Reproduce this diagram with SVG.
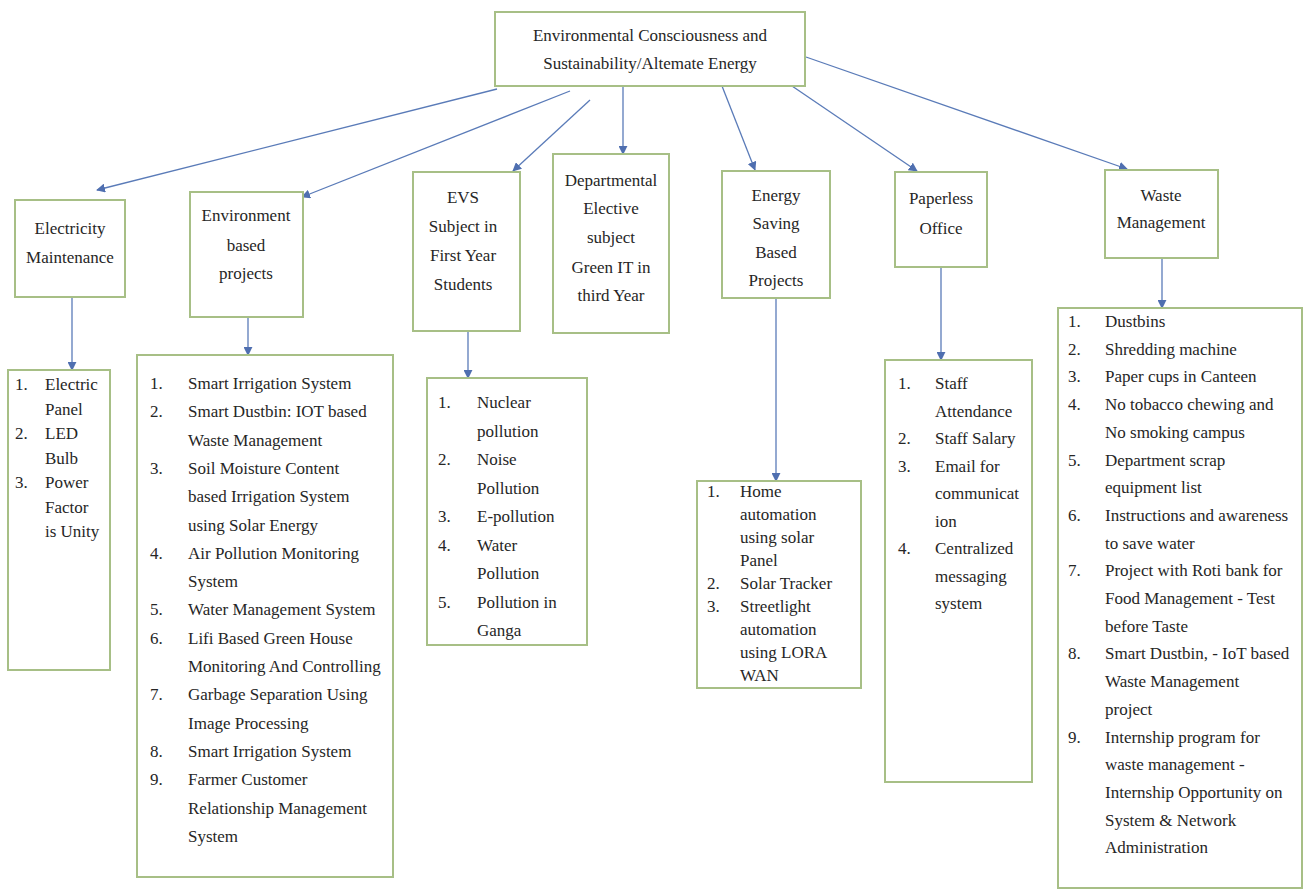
<svg xmlns="http://www.w3.org/2000/svg" width="1306" height="891" viewBox="0 0 1306 891">
<defs>
<marker id="ah" viewBox="0 0 10 10" refX="9" refY="5" markerWidth="9" markerHeight="9" markerUnits="userSpaceOnUse" orient="auto">
<path d="M0,0 L10,5 L0,10 z" fill="#4f6fb0"/>
</marker>
<style>
.box{fill:#ffffff;stroke:#a7bf86;stroke-width:2}
.t{font-family:"Liberation Serif","Times New Roman",serif;font-size:17px;fill:#262626}
.c{text-anchor:middle}
.conn{stroke:#5a7bb8;stroke-width:1.3;fill:none;marker-end:url(#ah)}
</style>
</defs>
<rect width="1306" height="891" fill="#ffffff"/>
<g id="connectors">
<line class="conn" x1="497" y1="89" x2="97" y2="190"/>
<line class="conn" x1="570" y1="91" x2="302" y2="197"/>
<line class="conn" x1="590" y1="100" x2="513" y2="171"/>
<line class="conn" x1="623" y1="86" x2="623" y2="154"/>
<line class="conn" x1="722" y1="86" x2="755" y2="170"/>
<line class="conn" x1="792" y1="86" x2="917" y2="171"/>
<line class="conn" x1="806" y1="57" x2="1127" y2="169"/>
<line class="conn" x1="72" y1="297" x2="72" y2="370"/>
<line class="conn" x1="248" y1="317" x2="248" y2="355"/>
<line class="conn" x1="468" y1="331" x2="468" y2="378"/>
<line class="conn" x1="776" y1="298" x2="776" y2="481"/>
<line class="conn" x1="941" y1="267" x2="941" y2="360"/>
<line class="conn" x1="1162" y1="258" x2="1162" y2="308"/>
</g>
<g id="root">
<rect class="box" x="495" y="12" width="310" height="74"/>
<text class="t c" x="650" y="41">Environmental Consciousness and</text>
<text class="t c" x="650" y="69">Sustainability/Altemate Energy</text>
</g>
<g id="electricity">
<rect class="box" x="15" y="200" width="110" height="97"/>
<text class="t c" x="70" y="234">Electricity</text>
<text class="t c" x="70" y="263">Maintenance</text>
</g>
<g id="environment">
<rect class="box" x="190" y="192" width="113" height="125"/>
<text class="t c" x="246" y="221">Environment</text>
<text class="t c" x="246" y="251">based</text>
<text class="t c" x="246" y="279">projects</text>
</g>
<g id="evs">
<rect class="box" x="413" y="172" width="107" height="159"/>
<text class="t c" x="463" y="203">EVS</text>
<text class="t c" x="463" y="232">Subject in</text>
<text class="t c" x="463" y="261">First Year</text>
<text class="t c" x="463" y="290">Students</text>
</g>
<g id="departmental">
<rect class="box" x="553" y="154" width="116" height="179"/>
<text class="t c" x="611" y="186">Departmental</text>
<text class="t c" x="611" y="214">Elective</text>
<text class="t c" x="611" y="243">subject</text>
<text class="t c" x="611" y="273">Green IT in</text>
<text class="t c" x="611" y="301">third Year</text>
</g>
<g id="energy">
<rect class="box" x="722" y="171" width="108" height="127"/>
<text class="t c" x="776" y="201">Energy</text>
<text class="t c" x="776" y="229">Saving</text>
<text class="t c" x="776" y="258">Based</text>
<text class="t c" x="776" y="286">Projects</text>
</g>
<g id="paperless">
<rect class="box" x="895" y="172" width="92" height="95"/>
<text class="t c" x="941" y="204">Paperless</text>
<text class="t c" x="941" y="234">Office</text>
</g>
<g id="waste">
<rect class="box" x="1105" y="170" width="113" height="88"/>
<text class="t c" x="1161" y="201">Waste</text>
<text class="t c" x="1161" y="228">Management</text>
</g>
<g id="electricity-list">
<rect class="box" x="8" y="370" width="102" height="300"/>
<text class="t" x="15" y="390">1.</text><text class="t" x="45" y="390">Electric</text>
<text class="t" x="45" y="414.5">Panel</text>
<text class="t" x="15" y="439">2.</text><text class="t" x="45" y="439">LED</text>
<text class="t" x="45" y="463.5">Bulb</text>
<text class="t" x="15" y="488">3.</text><text class="t" x="45" y="488">Power</text>
<text class="t" x="45" y="512.5">Factor</text>
<text class="t" x="45" y="537">is Unity</text>
</g>
<g id="environment-list">
<rect class="box" x="137" y="355" width="256" height="522"/>
<text class="t" x="150" y="389">1.</text><text class="t" x="188" y="389">Smart Irrigation System</text>
<text class="t" x="150" y="417.3">2.</text><text class="t" x="188" y="417.3">Smart Dustbin: IOT based</text>
<text class="t" x="188" y="445.6">Waste Management</text>
<text class="t" x="150" y="473.9">3.</text><text class="t" x="188" y="473.9">Soil Moisture Content</text>
<text class="t" x="188" y="502.2">based Irrigation System</text>
<text class="t" x="188" y="530.5">using Solar Energy</text>
<text class="t" x="150" y="558.8">4.</text><text class="t" x="188" y="558.8">Air Pollution Monitoring</text>
<text class="t" x="188" y="587.1">System</text>
<text class="t" x="150" y="615.4">5.</text><text class="t" x="188" y="615.4">Water Management  System</text>
<text class="t" x="150" y="643.7">6.</text><text class="t" x="188" y="643.7">Lifi Based Green House</text>
<text class="t" x="188" y="672">Monitoring And Controlling</text>
<text class="t" x="150" y="700.3">7.</text><text class="t" x="188" y="700.3">Garbage Separation Using</text>
<text class="t" x="188" y="728.6">Image Processing</text>
<text class="t" x="150" y="756.9">8.</text><text class="t" x="188" y="756.9">Smart Irrigation System</text>
<text class="t" x="150" y="785.2">9.</text><text class="t" x="188" y="785.2">Farmer Customer</text>
<text class="t" x="188" y="813.5">Relationship Management</text>
<text class="t" x="188" y="841.8">System</text>
</g>
<g id="evs-list">
<rect class="box" x="427" y="378" width="160" height="267"/>
<text class="t" x="438" y="408">1.</text><text class="t" x="477" y="408">Nuclear</text>
<text class="t" x="477" y="436.5">pollution</text>
<text class="t" x="438" y="465">2.</text><text class="t" x="477" y="465">Noise</text>
<text class="t" x="477" y="493.5">Pollution</text>
<text class="t" x="438" y="522">3.</text><text class="t" x="477" y="522">E-pollution</text>
<text class="t" x="438" y="550.5">4.</text><text class="t" x="477" y="550.5">Water</text>
<text class="t" x="477" y="579">Pollution</text>
<text class="t" x="438" y="607.5">5.</text><text class="t" x="477" y="607.5">Pollution in</text>
<text class="t" x="477" y="636">Ganga</text>
</g>
<g id="energy-list">
<rect class="box" x="697" y="481" width="164" height="207"/>
<text class="t" x="707" y="497">1.</text><text class="t" x="740" y="497">Home</text>
<text class="t" x="740" y="520">automation</text>
<text class="t" x="740" y="543">using solar</text>
<text class="t" x="740" y="566">Panel</text>
<text class="t" x="707" y="589">2.</text><text class="t" x="740" y="589">Solar Tracker</text>
<text class="t" x="707" y="612">3.</text><text class="t" x="740" y="612">Streetlight</text>
<text class="t" x="740" y="635">automation</text>
<text class="t" x="740" y="658">using LORA</text>
<text class="t" x="740" y="681">WAN</text>
</g>
<g id="paperless-list">
<rect class="box" x="885" y="360" width="147" height="422"/>
<text class="t" x="898" y="389">1.</text><text class="t" x="935" y="389">Staff</text>
<text class="t" x="935" y="416.5">Attendance</text>
<text class="t" x="898" y="444">2.</text><text class="t" x="935" y="444">Staff Salary</text>
<text class="t" x="898" y="471.5">3.</text><text class="t" x="935" y="471.5">Email for</text>
<text class="t" x="935" y="499">communicat</text>
<text class="t" x="935" y="526.5">ion</text>
<text class="t" x="898" y="554">4.</text><text class="t" x="935" y="554">Centralized</text>
<text class="t" x="935" y="581.5">messaging</text>
<text class="t" x="935" y="609">system</text>
</g>
<g id="waste-list">
<rect class="box" x="1058" y="308" width="244" height="580"/>
<text class="t" x="1068" y="327">1.</text><text class="t" x="1105" y="327">Dustbins</text>
<text class="t" x="1068" y="354.7">2.</text><text class="t" x="1105" y="354.7">Shredding machine</text>
<text class="t" x="1068" y="382.4">3.</text><text class="t" x="1105" y="382.4">Paper cups in Canteen</text>
<text class="t" x="1068" y="410.1">4.</text><text class="t" x="1105" y="410.1">No tobacco chewing and</text>
<text class="t" x="1105" y="437.8">No smoking  campus</text>
<text class="t" x="1068" y="465.5">5.</text><text class="t" x="1105" y="465.5">Department  scrap</text>
<text class="t" x="1105" y="493.2">equipment  list</text>
<text class="t" x="1068" y="520.9">6.</text><text class="t" x="1105" y="520.9">Instructions  and awareness</text>
<text class="t" x="1105" y="548.6">to save water</text>
<text class="t" x="1068" y="576.3">7.</text><text class="t" x="1105" y="576.3">Project with Roti bank for</text>
<text class="t" x="1105" y="604">Food Management  - Test</text>
<text class="t" x="1105" y="631.7">before Taste</text>
<text class="t" x="1068" y="659.4">8.</text><text class="t" x="1105" y="659.4">Smart Dustbin, - IoT based</text>
<text class="t" x="1105" y="687.1">Waste Management</text>
<text class="t" x="1105" y="714.8">project</text>
<text class="t" x="1068" y="742.5">9.</text><text class="t" x="1105" y="742.5">Internship program for</text>
<text class="t" x="1105" y="770.2">waste management  -</text>
<text class="t" x="1105" y="797.9">Internship Opportunity on</text>
<text class="t" x="1105" y="825.6">System &amp; Network</text>
<text class="t" x="1105" y="853.3">Administration</text>
</g>
</svg>
